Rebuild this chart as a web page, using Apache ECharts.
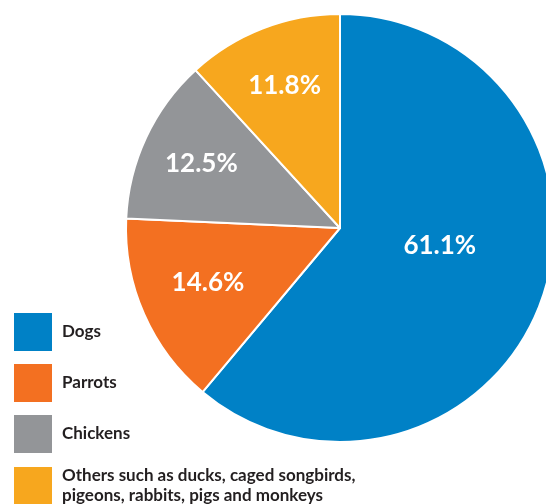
<!DOCTYPE html>
<html>
<head>
<meta charset="utf-8">
<script src="https://cdn.jsdelivr.net/npm/echarts@6/dist/echarts.min.js"></script>
<style>
  html, body { margin: 0; padding: 0; background: #fff; }
  #chart { width: 546px; height: 504px; }
</style>
</head>
<body>
<div id="chart"></div>
<script>
// pet shares, clockwise from 12 o'clock
const categories = ['Dogs', 'Parrots', 'Chickens', 'Others such as ducks, caged songbirds,\npigeons, rabbits, pigs and monkeys'];
const shares = [61.1, 14.6, 12.5, 11.8];
const colors = ['#0081c6', '#f37021', '#939598', '#f7a71e'];

const pieData = categories.map((name, i) => ({ name: name, value: shares[i] }));

let chart = echarts.init(document.getElementById('chart'));
chart.setOption({
  animation: false,
  color: colors,
  legend: {
    orient: 'vertical',
    left: 14,
    top: 313,
    height: 260,
    padding: 0,
    icon: 'rect',
    itemWidth: 38,
    itemHeight: 38,
    itemGap: 13,
    itemStyle: { borderWidth: 0 },
    data: categories,
    textStyle: {
      fontFamily: 'Lato',
      fontWeight: 'bold',
      fontSize: 17,
      lineHeight: 20,
      color: '#231f20',
      padding: [0, 0, 0, 5]
    }
  },
  series: [
    {
      type: 'pie',
      center: [340, 228],
      radius: 214,
      startAngle: 90,
      silent: true,
      label: { show: false },
      labelLine: { show: false },
      itemStyle: { borderColor: '#fff', borderWidth: 2 },
      data: pieData
    },
    {
      // transparent ring that only carries the percentage labels
      type: 'pie',
      center: [340, 228],
      radius: [86, 214],
      startAngle: 90,
      silent: true,
      itemStyle: { color: 'rgba(0,0,0,0)' },
      label: {
        position: 'inside',
        formatter: '{c}%',
        color: '#fff',
        fontFamily: 'Lato',
        fontWeight: 'bold',
        fontSize: 26
      },
      labelLayout: function (params) {
        if (params.dataIndex === 0) return { dx: -44, dy: -35 };
        if (params.dataIndex === 1) return { dx: 8, dy: -7 };
        return {};
      },
      data: pieData
    }
  ]
});
</script>
</body>
</html>
